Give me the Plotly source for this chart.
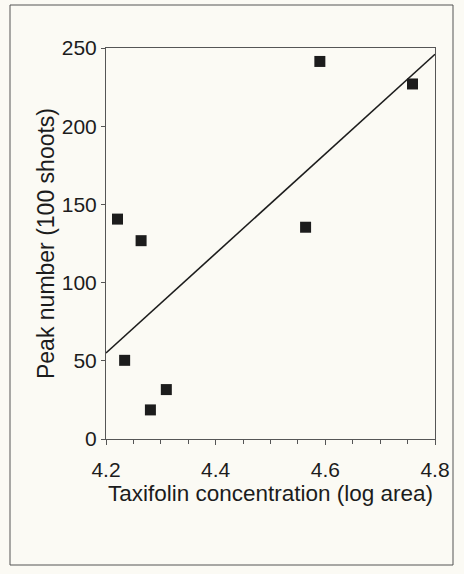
import plotly.graph_objects as go

# Data
taxifolin_log_area = [4.221, 4.264, 4.234, 4.281, 4.310, 4.564, 4.590, 4.759]
peak_number = [140.6, 126.8, 50.3, 18.6, 31.6, 135.4, 241.4, 227.0]
trend_x = [4.2, 4.8]
trend_y = [55, 246]
x_tick_vals = [4.2, 4.4, 4.6, 4.8]
x_tick_text = ["4.2", "4.4", "4.6", "4.8"]
y_tick_vals = [0, 50, 100, 150, 200, 250]

W, H = 464, 574
L, R, T, B = 106, 29, 48, 135
pw, ph = W - L - R, H - T - B

bg = "#fbfaf4"
ink = "#1c1c1c"
font_family = "Liberation Sans, Arial, sans-serif"

fig = go.Figure()
fig.add_trace(go.Scatter(
    x=trend_x, y=trend_y, mode="lines",
    line=dict(color=ink, width=1.6), showlegend=False, hoverinfo="skip"))
fig.add_trace(go.Scatter(
    x=taxifolin_log_area, y=peak_number, mode="markers",
    marker=dict(symbol="square", size=11, color=ink), showlegend=False))

def px_to_paper_x(px):
    return (px - L) / pw

def px_to_paper_y(py):
    return (H - B - py) / ph

fig.add_shape(type="rect", xref="paper", yref="paper",
              x0=px_to_paper_x(10), x1=px_to_paper_x(453),
              y0=px_to_paper_y(565), y1=px_to_paper_y(5),
              line=dict(color="#555555", width=1), layer="below")

fig.update_layout(
    width=W, height=H,
    margin=dict(l=L, r=R, t=T, b=B),
    paper_bgcolor=bg, plot_bgcolor=bg,
    font=dict(family=font_family, size=21, color=ink),
    xaxis=dict(
        range=[4.2, 4.8], tickvals=x_tick_vals, ticktext=x_tick_text,
        ticks="outside", ticklen=5, tickcolor="#555555", tickwidth=1,
        minor=dict(dtick=0.05, tick0=4.2, ticks="outside", ticklen=4,
                   tickcolor="#555555", showgrid=False),
        showline=True, linecolor="#555555", linewidth=1, mirror=True,
        showgrid=False, zeroline=False, ticklabelstandoff=7,
        automargin=False,
        title=dict(text="Taxifolin concentration (log area)",
                   font=dict(size=22.5), standoff=0),
    ),
    yaxis=dict(
        range=[0, 250], tickvals=y_tick_vals,
        ticks="outside", ticklen=4, tickcolor="#555555", tickwidth=1,
        showline=True, linecolor="#555555", linewidth=1, mirror=True,
        showgrid=False, zeroline=False, automargin=False,
        title=dict(text="Peak number (100 shoots)", font=dict(size=23), standoff=0),
    ),
)

fig.write_html("out.html", config={"displayModeBar": False},
               post_script="document.body.style.margin='0';document.body.style.overflow='hidden';")
